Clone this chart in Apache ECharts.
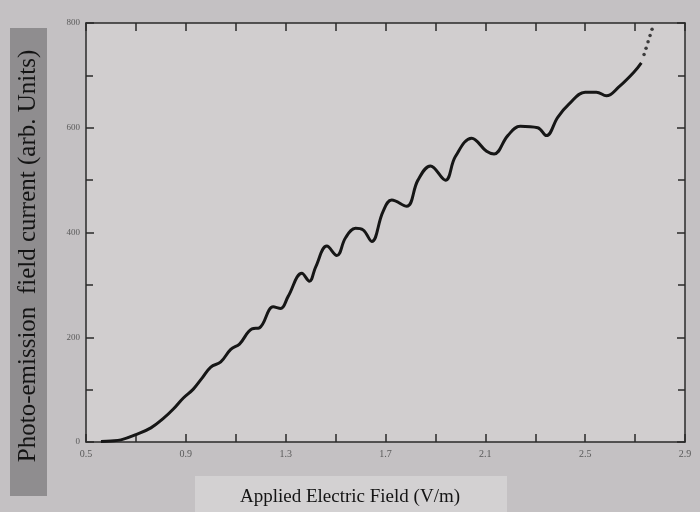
<!DOCTYPE html>
<html>
<head>
<meta charset="utf-8">
<script src="https://cdn.jsdelivr.net/npm/echarts@6/dist/echarts.min.js"></script>
<style>
  html, body { margin: 0; padding: 0; background: #c4c1c3; }
  #container { width: 700px; height: 512px; }
</style>
</head>
<body>
<div id="container"></div>
<script>
// field (V/m) and current (arb. units)
var fieldX = [0.56, 0.60, 0.64, 0.70, 0.76, 0.81, 0.85, 0.89, 0.93, 0.965,
    1.00, 1.04, 1.08, 1.115, 1.165, 1.195, 1.25, 1.28, 1.31, 1.365,
    1.395, 1.42, 1.465, 1.505, 1.54, 1.58, 1.61, 1.645, 1.69, 1.725,
    1.785, 1.83, 1.88, 1.94, 1.98, 2.045, 2.105, 2.135, 2.19, 2.24,
    2.31, 2.345, 2.39, 2.435, 2.50, 2.545, 2.585, 2.635, 2.695, 2.725];
var currentY = [1, 2, 4, 14, 27, 45, 63, 84, 101, 122,
    143, 153, 177, 187, 216, 218, 258, 255, 278, 322,
    307, 334, 374, 356, 390, 408, 405, 383, 440, 462,
    450, 500, 527, 500, 545, 580, 555, 550, 585, 603,
    600, 585, 620, 645, 668, 668, 661, 678, 706, 724];
// dotted tail at the end of the trace
var tailX = [2.736, 2.744, 2.752, 2.760, 2.768];
var tailY = [740, 752, 764, 776, 788];

var xLabels = ['0.5', '0.9', '1.3', '1.7', '2.1', '2.5', '2.9'];
var yLabels = ['0', '200', '400', '600', '800'];

var dom = document.getElementById('container');
var myChart = echarts.init(dom, null, { renderer: 'canvas' });

var lineData = fieldX.map(function (x, i) { return [x, currentY[i]]; });
var tailData = tailX.map(function (x, i) { return [x, tailY[i]]; });

var axisLineStyle = { color: '#2a2a2a', width: 1.5 };

function xAxisDef(pos, showLabel) {
    return {
        type: 'value', position: pos, min: 0.5, max: 2.9, interval: 0.4,
        axisLine: { show: true, onZero: false, lineStyle: axisLineStyle },
        axisTick: { show: true, inside: true, length: 8, lineStyle: axisLineStyle },
        minorTick: { show: true, splitNumber: 2, length: 8, lineStyle: axisLineStyle },
        splitLine: { show: false },
        axisLabel: {
            show: showLabel, color: '#5a5a5a', fontSize: 10, margin: 7,
            fontFamily: 'Liberation Serif',
            formatter: function (v) {
                var i = Math.round((v - 0.5) / 0.4);
                return xLabels[i] || '';
            }
        }
    };
}

function yAxisDef(pos, showLabel) {
    return {
        type: 'value', position: pos, min: 0, max: 800, interval: 200,
        axisLine: { show: true, onZero: false, lineStyle: axisLineStyle },
        axisTick: { show: true, inside: true, length: 8, lineStyle: axisLineStyle },
        minorTick: { show: true, splitNumber: 2, length: 7, lineStyle: axisLineStyle },
        splitLine: { show: false },
        axisLabel: {
            show: showLabel, color: '#5a5a5a', fontSize: 9, margin: 6,
            fontFamily: 'Liberation Serif',
            formatter: function (v) { return yLabels[Math.round(v / 200)] || ''; }
        }
    };
}

myChart.setOption({
    backgroundColor: '#c4c1c3',
    animation: false,
    grid: {
        left: 86, right: 15, top: 23, bottom: 70,
        show: true, backgroundColor: '#d1cecf', borderWidth: 0
    },
    xAxis: [xAxisDef('bottom', true), xAxisDef('top', false)],
    yAxis: [yAxisDef('left', true), yAxisDef('right', false)],
    graphic: [
        {
            type: 'rect', left: 10, top: 28,
            shape: { width: 37, height: 468 },
            style: { fill: '#8f8d8f' }
        },
        {
            type: 'text', x: 28, y: 256, rotation: Math.PI / 2,
            style: {
                text: 'Photo-emission  field current (arb. Units)',
                font: '25px "Liberation Serif"', fill: '#141414',
                align: 'center', verticalAlign: 'middle'
            }
        },
        {
            type: 'rect', left: 195, top: 476,
            shape: { width: 312, height: 36 },
            style: { fill: '#d3d1d2' }
        },
        {
            type: 'text', x: 350, y: 497,
            style: {
                text: 'Applied Electric Field (V/m)',
                font: '19px "Liberation Serif"', fill: '#141414',
                align: 'center', verticalAlign: 'middle'
            }
        }
    ],
    series: [
        {
            type: 'line', data: lineData, smooth: 0.4, showSymbol: false,
            lineStyle: { color: '#161616', width: 3 }
        },
        {
            type: 'scatter', data: tailData, symbolSize: 3.5,
            itemStyle: { color: '#161616' }
        }
    ]
});

window.addEventListener('resize', function () {
    myChart.resize();
});
</script>
</body>
</html>
